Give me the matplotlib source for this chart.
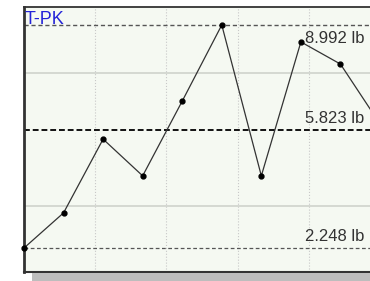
import matplotlib.pyplot as plt
from matplotlib.patches import Rectangle

plt.rcParams['font.family'] = ['Liberation Sans', 'DejaVu Sans']

# readings (lb)
readings = [2.248, 3.31, 5.54, 4.43, 6.69, 8.992, 4.43, 8.48, 7.81, 6.00]
sample_no = list(range(len(readings)))

max_val = 8.992
mean_val = 5.823
min_val = 2.248
unit = 'lb'
title = 'T-PK'

fig = plt.figure(figsize=(3.70, 2.81), dpi=100)

# grey drop shadow under the plot box
fig.patches.append(Rectangle((32 / 370, 0), 1, 8 / 281, transform=fig.transFigure,
                             facecolor='#bdbdbd', edgecolor='none', zorder=0))

# plot box runs past the right edge of the picture
ax = fig.add_axes([24 / 370, 9 / 281, 356 / 370, 265 / 281])
ax.set_facecolor('#f5f9f2')

ymin, ymax = 1.522, 9.536
ax.set_xlim(0, 9)
ax.set_ylim(ymin, ymax)

# background grid
for gx in [1.8, 3.6, 5.4, 7.2]:
    ax.axvline(gx, color='#c8c8c8', lw=0.8, ls=':', zorder=1)
for frac in [0.25, 0.75]:
    ax.axhline(ymin + frac * (ymax - ymin), color='#cfd3cc', lw=1.2, zorder=1)

# max / mean / min lines
ax.axhline(max_val, color='#555555', lw=1.0, ls=(0, (3, 2)), zorder=2)
ax.axhline(mean_val, color='#111111', lw=1.4, ls=(0, (3, 1.5)), zorder=2)
ax.axhline(min_val, color='#555555', lw=0.9, ls=(0, (3, 2)), zorder=2)

ax.plot(sample_no, readings, color='#333333', lw=0.9, marker='o', ms=3.5,
        mfc='black', mec='black', zorder=3, clip_on=False)

# value labels
lx = (305 - 24) / 356
ax.text(lx, max_val - 0.17, f'{max_val:.3f} {unit}', transform=ax.get_yaxis_transform(),
        fontsize=12, color='#333333', va='top', ha='left')
ax.text(lx, mean_val + 0.1, f'{mean_val:.3f} {unit}', transform=ax.get_yaxis_transform(),
        fontsize=12, color='#333333', va='bottom', ha='left')
ax.text(lx, min_val + 0.13, f'{min_val:.3f} {unit}', transform=ax.get_yaxis_transform(),
        fontsize=12, color='#333333', va='bottom', ha='left')

ax.text(0.003, 0.985, title, transform=ax.transAxes, fontsize=13, color='#2323d8',
        va='top', ha='left', zorder=4)

ax.set_xticks([])
ax.set_yticks([])
for side in ['left', 'top', 'bottom']:
    ax.spines[side].set_color('#333333')
ax.spines['left'].set_linewidth(2)
ax.spines['top'].set_linewidth(1.3)
ax.spines['bottom'].set_linewidth(1.5)

fig.savefig('out.png', dpi=100)
